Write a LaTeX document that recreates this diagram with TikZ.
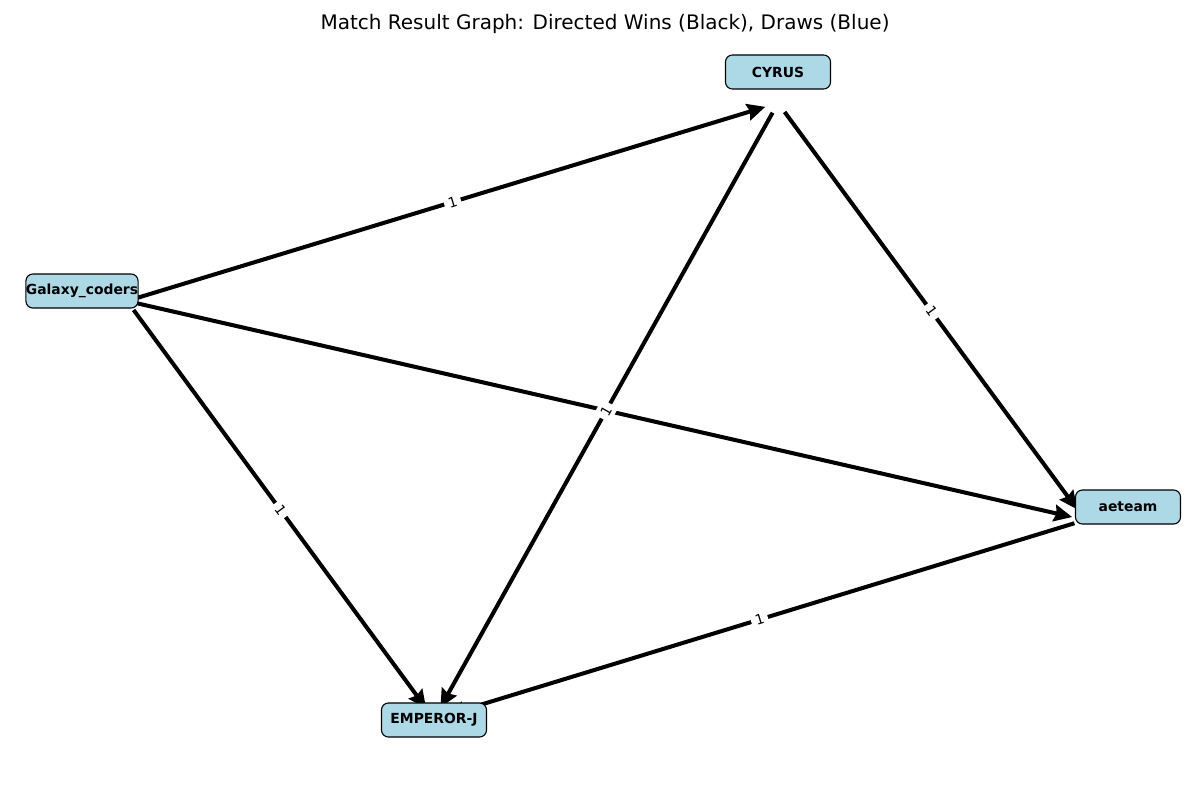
\documentclass[tikz,border=0pt]{standalone}
\usepackage{fontspec}
\setmainfont{DejaVu Sans}
\usetikzlibrary{positioning, arrows.meta, calc}
\definecolor{NodeBlue}{HTML}{ADD8E6}
\newcommand{\teamfont}{\fontsize{10}{12}\selectfont\bfseries}
\newcommand{\scorefont}{\fontsize{10}{12}\selectfont}

\begin{document}
\begin{tikzpicture}[x=0.72pt, y=-0.72pt, >={Stealth[length=13pt, width=12pt, inset=1.5pt]},
    team/.style={draw=black, line width=0.8pt, fill=NodeBlue, rounded corners=5pt,
                 minimum width=75.6pt, minimum height=24.5pt, inner sep=0pt, font=\teamfont},
    win/.style={->, line width=2.9pt, shorten <=8pt, shorten >=9.5pt},
    score/.style={fill=white, inner sep=3pt, sloped, font=\scorefont}]
    \useasboundingbox (0,0) rectangle (1200,800);
    % title
    \node[font=\fontsize{14.4}{17}\selectfont] (title) at (605,24)
        {Match Result Graph: Directed Wins (Black), Draws (Blue)};
    % graph positions (labels sit a little off these)
    \coordinate (gc) at (127,301);
    \coordinate (cy) at (778,103);
    \coordinate (em) at (434,719);
    \coordinate (ae) at (1085,520);
    % wins
    \draw[win] (gc) -- node[score] {1} (cy);
    \draw[win] (gc) -- node[score] {1} (ae);
    \draw[win] (gc) -- node[score] {1} (em);
    \draw[win] (cy) -- node[score] {1} (ae);
    \draw[win] (cy) -- node[score] {1} (em);
    \draw[win] (ae) -- node[score] {1} (em);
    % team boxes
    \node[team] (gcL) at (82,291) {Galaxy\_coders};
    \node[team] (cyL) at (778,72) {CYRUS};
    \node[team] (emL) at (434,720) {EMPEROR-J};
    \node[team] (aeL) at (1128,507) {aeteam};
\end{tikzpicture}
\end{document}
